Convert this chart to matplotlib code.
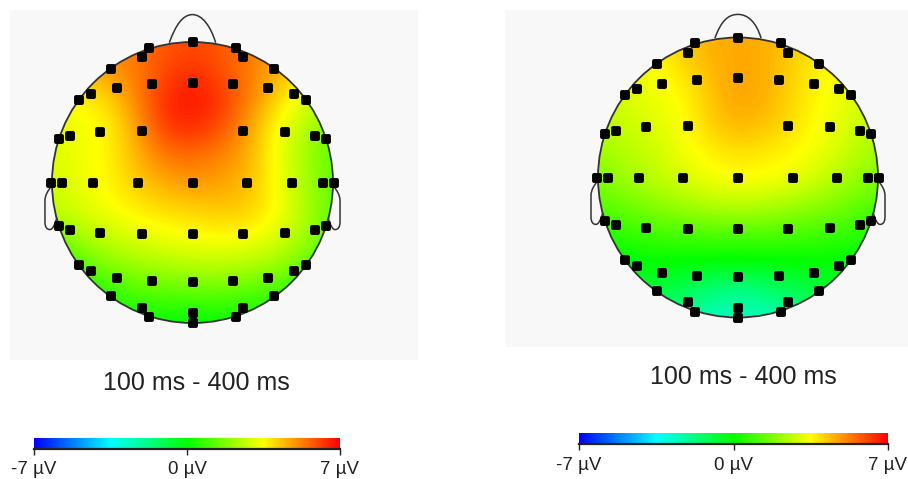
import numpy as np
import matplotlib
matplotlib.use('Agg')
import matplotlib.pyplot as plt
from matplotlib.cm import ScalarMappable
from matplotlib.colors import LinearSegmentedColormap, Normalize
from matplotlib.markers import MarkerStyle
from matplotlib.patches import Circle, PathPatch
from matplotlib.path import Path

plt.rcParams['font.family'] = ['Liberation Sans', 'DejaVu Sans']

WIDTH, HEIGHT = 908, 479

# electrode positions in head radii, x to the right, y towards the nose
elec_x = [0, -.31, .31, -.36, .36, -.58, .58,
          0, -.29, .29, -.54, .54, -.72, .72, -.81, .81,
          -.36, .36, -.66, .66, -.87, .87, -.95, .95,
          0, -.39, .39, -.71, .71, -.93, .93, -1.01, 1.01,
          0, -.36, .36, -.66, .66, -.87, .87, -.95, .95,
          0, -.29, .29, -.54, .54, -.72, .72, -.81, .81,
          -.58, .58, -.36, .36, -.31, .31, 0, 0]
elec_y = [1.0, .96, .96, .89, .89, .81, .81,
          .71, .70, .70, .67, .67, .63, .63, .59, .59,
          .37, .37, .36, .36, .33, .33, .31, .31,
          0, 0, 0, 0, 0, 0, 0, 0, 0,
          -.37, -.37, -.37, -.36, -.36, -.34, -.34, -.31, -.31,
          -.71, -.70, -.70, -.68, -.68, -.63, -.63, -.59, -.59,
          -.81, -.81, -.89, -.89, -.96, -.96, -.93, -1.0]

# potential in uV, rows from nose to back, columns left to right
left_values = [
    [4.5, 4.8, 5.0, 5.3, 5.8, 6.0, 5.8, 5.3, 4.8, 4.4, 4.0],
    [4.2, 4.5, 5.0, 5.3, 6.0, 6.3, 5.9, 5.3, 4.6, 3.9, 3.4],
    [3.5, 3.7, 4.0, 5.2, 6.4, 6.8, 6.3, 5.3, 4.1, 3.0, 2.6],
    [3.0, 3.3, 3.6, 4.8, 6.3, 6.5, 6.0, 4.8, 3.4, 2.5, 1.5],
    [3.0, 3.3, 3.6, 4.5, 5.4, 5.6, 5.2, 4.6, 3.3, 2.2, 1.2],
    [2.9, 3.2, 3.6, 4.2, 4.7, 4.9, 4.8, 4.4, 3.4, 2.3, 1.3],
    [2.6, 3.0, 3.4, 3.7, 3.9, 4.1, 4.2, 4.2, 3.5, 2.4, 1.2],
    [1.5, 2.2, 2.7, 3.0, 3.3, 3.4, 3.5, 3.4, 3.0, 2.2, 1.2],
    [0.6, 1.0, 1.8, 2.1, 2.3, 2.5, 2.5, 2.4, 2.1, 1.3, 0.7],
    [0.2, 0.3, 0.5, 1.0, 1.1, 1.2, 1.2, 1.0, 0.7, 0.4, 0.2],
    [0.0, 0.0, 0.0, 0.1, 0.0, -0.1, 0.0, 0.1, 0.1, 0.1, 0.1],
]
right_values = [
    [3.3, 3.5, 3.8, 4.2, 4.6, 4.7, 4.6, 4.2, 3.8, 3.5, 3.2],
    [3.0, 3.2, 3.4, 4.0, 4.5, 4.7, 4.6, 4.1, 3.6, 3.3, 3.0],
    [2.8, 3.0, 3.3, 3.5, 4.3, 4.8, 4.6, 4.0, 3.5, 3.2, 2.8],
    [2.5, 2.8, 3.1, 3.4, 4.2, 4.6, 4.4, 3.9, 3.4, 3.0, 2.5],
    [2.2, 2.5, 2.8, 3.3, 3.7, 4.0, 3.8, 3.6, 3.3, 2.7, 2.2],
    [1.8, 2.2, 2.6, 3.0, 3.4, 3.5, 3.5, 3.3, 2.8, 2.2, 1.8],
    [1.2, 1.5, 1.9, 2.2, 2.5, 2.6, 2.5, 2.2, 1.9, 1.5, 1.0],
    [0.5, 0.7, 0.9, 1.0, 1.1, 1.1, 1.1, 1.0, 0.9, 0.7, 0.4],
    [0.0, -0.1, 0.0, 0.0, 0.0, 0.0, 0.0, 0.0, 0.0, -0.1, 0.0],
    [-0.5, -0.6, -0.7, -1.0, -1.6, -1.9, -1.6, -1.0, -0.7, -0.6, -0.5],
    [-1.2, -1.4, -1.8, -2.2, -2.5, -2.6, -2.5, -2.2, -1.8, -1.4, -1.2],
]

tick_values = [-7, 0, 7]
tick_labels = ['-7 µV', '0 µV', '7 µV']
window_label = '100 ms - 400 ms'

cmap = LinearSegmentedColormap.from_list(
    'topo', ['#0000ff', '#00ffff', '#00ff00', '#ffff00', '#ff0000'])
norm = Normalize(-7, 7)


def add_axes_px(fig, x0, y0, x1, y1):
    # pixel box measured from the top left of the picture
    return fig.add_axes([x0 / WIDTH, 1 - y1 / HEIGHT, (x1 - x0) / WIDTH, (y1 - y0) / HEIGHT])


def draw_head(fig, box, center, radius, values, nose_top):
    ax = add_axes_px(fig, *box)
    ax.set_facecolor('#f8f8f8')
    half = 1 + 0.1
    im = ax.imshow(values, cmap=cmap, norm=norm, extent=[-half, half, -half, half],
                   interpolation='bicubic', interpolation_stage='data', aspect='auto')
    im.set_clip_path(Circle((0, 0), 1, transform=ax.transData))

    # head outline, nose and ears
    ax.add_patch(Circle((0, 0), 1, fill=False, ec='#333333', lw=1.3))
    nose = Path([(-.165, .995), (-.12, 1.12), (-.07, nose_top), (0, nose_top), (.07, nose_top), (.13, 1.11), (.165, .995)],
                [Path.MOVETO, Path.CURVE4, Path.CURVE4, Path.CURVE4, Path.CURVE4, Path.CURVE4, Path.CURVE4])
    ax.add_patch(PathPatch(nose, fill=False, ec='#333333', lw=1.1))
    for side in (-1, 1):
        ear = Path([(side * 1.0, -.02), (side * 1.03, -.06), (side * 1.05, -.09), (side * 1.05, -.13),
                    (side * 1.05, -.28),
                    (side * 1.05, -.32), (side * 1.035, -.335), (side * 1.015, -.335),
                    (side * .995, -.335), (side * .98, -.30), (side * .965, -.25)],
                   [Path.MOVETO, Path.CURVE4, Path.CURVE4, Path.CURVE4, Path.LINETO, Path.CURVE4, Path.CURVE4,
                    Path.CURVE4, Path.CURVE4, Path.CURVE4, Path.CURVE4])
        ax.add_patch(PathPatch(ear, fill=False, ec='#333333', lw=1.1))

    marker = MarkerStyle('s', joinstyle='round')
    ax.plot(elec_x, elec_y, ls='none', marker=marker, ms=4.6, mew=2.8, mfc='black', mec='black')

    x0, y0, x1, y1 = box
    ax.set_xlim((x0 - center[0]) / radius, (x1 - center[0]) / radius)
    ax.set_ylim((center[1] - y1) / radius, (center[1] - y0) / radius)
    ax.set_xticks([])
    ax.set_yticks([])
    for spine in ax.spines.values():
        spine.set_visible(False)


def draw_scale(fig, box, pad):
    cax = add_axes_px(fig, *box)
    cb = fig.colorbar(ScalarMappable(norm=norm, cmap=cmap), cax=cax, orientation='horizontal', ticks=tick_values)
    cb.set_ticklabels(tick_labels)
    cb.outline.set_visible(False)
    cax.tick_params(length=4, width=1, color='#222222', labelsize=13.5, labelcolor='#222222', pad=pad)
    cax.axhline(cax.get_ylim()[0], color='#222222', lw=1.6, clip_on=False)


fig = plt.figure(figsize=(WIDTH / 100, HEIGHT / 100), dpi=100)

draw_head(fig, (10, 10, 418, 360), (192.5, 182.5), 140.5, left_values, 1.195)
draw_head(fig, (505, 10, 908, 347), (738, 177.5), 140, right_values, 1.165)

draw_scale(fig, (34, 438, 340, 449), 4.5)
draw_scale(fig, (579, 433, 888, 444), 5.5)

fig.text(196.5 / WIDTH, 1 - 383 / HEIGHT, window_label, ha='center', va='center', fontsize=18, color='#222222')
fig.text(743 / WIDTH, 1 - 377 / HEIGHT, window_label, ha='center', va='center', fontsize=18, color='#222222')

fig.savefig('out.png', dpi=100)
